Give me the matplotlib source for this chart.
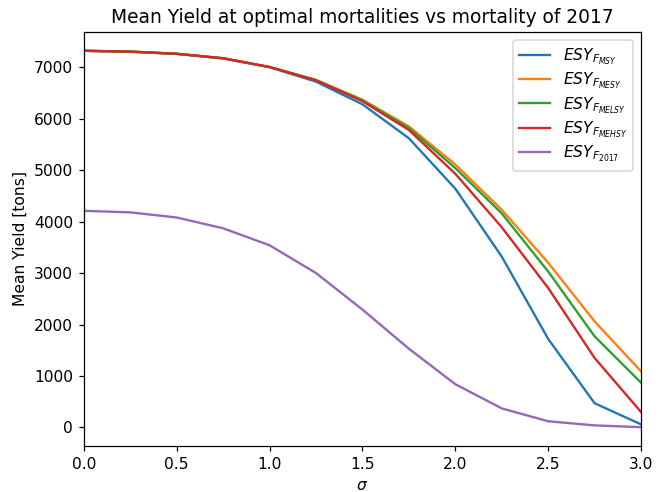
import numpy as np
import matplotlib
matplotlib.use("Agg")
import matplotlib.pyplot as plt

sigma = [0.0, 0.25, 0.5, 0.75, 1.0, 1.25, 1.5, 1.75, 2.0, 2.25, 2.5, 2.75, 3.0]

esy_msy = [7320, 7300, 7260, 7170, 7000, 6720, 6280, 5620, 4640, 3320, 1720, 470, 60]
esy_mesy = [7320, 7305, 7262, 7175, 7005, 6755, 6370, 5850, 5110, 4230, 3200, 2060, 1090]
esy_melsy = [7320, 7305, 7262, 7175, 7005, 6750, 6355, 5820, 5040, 4160, 3030, 1770, 870]
esy_mehsy = [7320, 7305, 7262, 7175, 7005, 6745, 6340, 5780, 4930, 3890, 2710, 1350, 300]
esy_2017 = [4210, 4180, 4080, 3870, 3540, 3000, 2290, 1530, 840, 370, 120, 40, 5]

series = [
    (esy_msy, r"$ESY_{F_{MSY}}$"),
    (esy_mesy, r"$ESY_{F_{MESY}}$"),
    (esy_melsy, r"$ESY_{F_{MELSY}}$"),
    (esy_mehsy, r"$ESY_{F_{MEHSY}}$"),
    (esy_2017, r"$ESY_{F_{2017}}$"),
]

dpi = 112
fig, ax = plt.subplots(figsize=(666 / dpi, 492 / dpi), dpi=dpi)
for vals, lab in series:
    ax.plot(sigma, vals, label=lab, linewidth=1.5)

ax.set_xlim(0, 3)
ax.set_xlabel(r"$\sigma$")
ax.set_ylabel("Mean Yield [tons]")
ax.set_title("Mean Yield at optimal mortalities vs mortality of 2017")
ax.legend(loc="upper right", labelspacing=0.25)
fig.subplots_adjust(left=0.126, right=0.9625, top=0.935, bottom=0.0935)
fig.savefig("out.png", dpi=dpi)
